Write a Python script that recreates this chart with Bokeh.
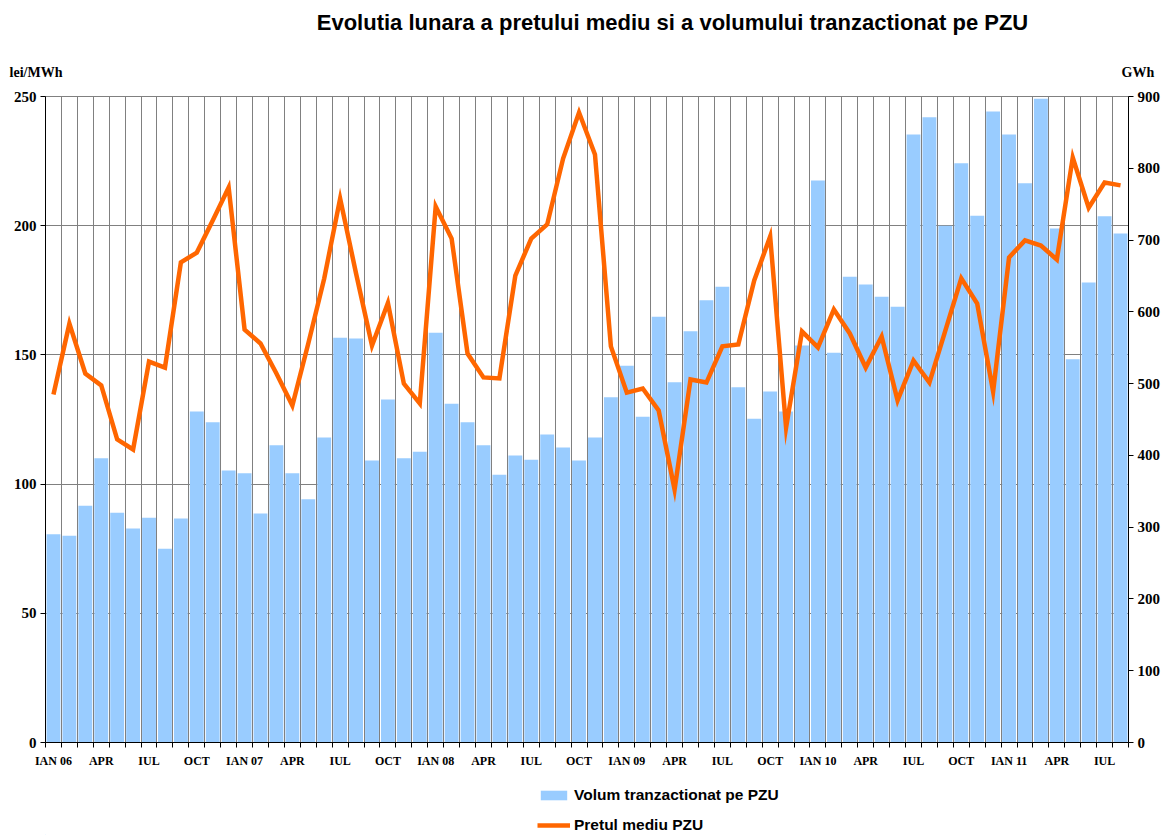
from bokeh.plotting import figure
from bokeh.layouts import column
from bokeh.models import Range1d, LinearAxis, FixedTicker, Legend, LegendItem
from bokeh.core.properties import value
from bokeh.embed import file_html
from bokeh.resources import INLINE

# ---- data ----
title_text = "Evolutia lunara a pretului mediu si a volumului tranzactionat pe PZU"
left_unit = "lei/MWh"
right_unit = "GWh"
series_names = ["Volum tranzactionat pe PZU", "Pretul mediu PZU"]

tick_labels = ["IAN 06", "APR", "IUL", "OCT", "IAN 07", "APR", "IUL", "OCT",
               "IAN 08", "APR", "IUL", "OCT", "IAN 09", "APR", "IUL", "OCT",
               "IAN 10", "APR", "IUL", "OCT", "IAN 11", "APR", "IUL"]

volume_gwh = [290, 288, 330, 396, 320, 298, 313, 270, 312, 461, 446, 379,
              375, 319, 414, 375, 339, 425, 564, 563, 393, 478, 396, 405,
              571, 472, 446, 414, 373, 400, 394, 429, 411, 393, 425, 481,
              525, 454, 593, 502, 573, 616, 635, 495, 451, 489, 461, 553,
              783, 543, 649, 638, 621, 607, 847, 871, 720, 807, 734, 879,
              847, 779, 897, 716, 534, 641, 733, 709]

price_lei = [134.7, 162.1, 142.8, 138.2, 117.3, 113.4, 147.4, 145.1, 185.8, 189.6, 202.0, 214.8,
             159.8, 154.4, 142.8, 130.4, 154.4, 179.6, 210.5, 181.5, 153.6, 170.1, 138.9, 131.2,
             207.4, 195.0, 150.5, 141.3, 140.9, 180.7, 195.0, 200.5, 226.0, 243.8, 227.6, 153.3,
             135.4, 137.0, 128.5, 97.9, 140.5, 139.3, 153.3, 154.0, 178.8, 195.8, 121.9, 159.1,
             152.9, 167.6, 158.3, 145.1, 157.1, 132.4, 147.8, 139.3, 159.4, 179.6, 169.9, 135.8,
             187.7, 194.3, 192.3, 186.9, 226.4, 207.0, 216.7, 215.6]

n = len(volume_gwh)
idx = list(range(n))
label_pos = list(range(0, n, 3))
boundaries = [i - 0.5 for i in range(n + 1)]

SERIF = "Liberation Serif"
SANS = "Liberation Sans"
GRID = "#808080"
BAR = "#99CCFF"
LINE = "#FF6600"
W = 1164
BL, BR = 45, 36                 # side borders shared by all stacked figures
FX0, FX1 = BL, W - BR           # frame span in page pixels
HEAD_H, MAIN_H, FOOT_H = 86, 688, 61

# ---- header (title + unit labels) ----
head = figure(width=W, height=HEAD_H, output_backend="svg", toolbar_location=None,
              x_range=Range1d(FX0, FX1), y_range=Range1d(0, HEAD_H),
              x_axis_type=None, min_border_left=BL, min_border_right=BR,
              min_border_top=0, min_border_bottom=0)
head.outline_line_color = None
head.grid.grid_line_color = None
head.text(x=[672], y=[HEAD_H - 22], text=[title_text],
          text_font=value(SANS), text_font_style="bold", text_font_size="22px",
          text_align="center", text_baseline="middle", text_color="black")

def unit_axis(ax, label, standoff):
    ax.ticker = FixedTicker(ticks=[HEAD_H - 72])
    ax.major_label_overrides = {HEAD_H - 72: label}
    ax.axis_line_color = None
    ax.major_tick_line_color = None
    ax.minor_tick_line_color = None
    ax.major_tick_out = 0
    ax.major_tick_in = 0
    ax.major_label_standoff = standoff
    ax.major_label_text_font = SERIF
    ax.major_label_text_font_style = "bold"
    ax.major_label_text_font_size = "14px"
    ax.major_label_text_color = "black"

unit_axis(head.yaxis[0], left_unit, -17)
hr = LinearAxis()
unit_axis(hr, right_unit, -7)
head.add_layout(hr, "right")

# ---- main chart ----
p = figure(width=W, height=MAIN_H, output_backend="svg", toolbar_location=None,
           x_range=Range1d(-0.5, n - 0.5), y_range=Range1d(0, 250),
           min_border_left=BL, min_border_right=BR, min_border_top=10, min_border_bottom=32)
p.extra_y_ranges = {"vol": Range1d(0, 900)}
p.outline_line_color = GRID

p.ygrid.ticker = FixedTicker(ticks=list(range(0, 251, 50)))
p.ygrid.grid_line_color = GRID
p.xgrid.ticker = FixedTicker(ticks=boundaries)
p.xgrid.grid_line_color = GRID

def style_y(ax):
    ax.minor_tick_line_color = None
    ax.major_tick_out = 5
    ax.major_tick_in = 0
    ax.major_label_standoff = 4
    ax.axis_line_color = "black"
    ax.major_tick_line_color = "black"
    ax.major_label_text_font = SERIF
    ax.major_label_text_font_style = "bold"
    ax.major_label_text_font_size = "15px"
    ax.major_label_text_color = "black"

ya = p.yaxis[0]
ya.ticker = FixedTicker(ticks=list(range(0, 251, 50)))
style_y(ya)

ra = LinearAxis(y_range_name="vol", ticker=FixedTicker(ticks=list(range(0, 901, 100))))
style_y(ra)
p.add_layout(ra, "right")

xa = p.xaxis[0]
xa.ticker = FixedTicker(ticks=label_pos, minor_ticks=boundaries)
xa.major_label_overrides = {pos: lab for pos, lab in zip(label_pos, tick_labels)}
xa.major_tick_line_color = None
xa.minor_tick_line_color = "black"
xa.minor_tick_out = 5
xa.minor_tick_in = 0
xa.major_label_standoff = 5
xa.axis_line_color = "black"
xa.major_label_text_font = SERIF
xa.major_label_text_font_style = "bold"
xa.major_label_text_font_size = "12px"
xa.major_label_text_color = "black"

bars = p.vbar(x=idx, top=volume_gwh, width=0.87, y_range_name="vol",
              fill_color=BAR, line_color=None)
price = p.line(idx, price_lei, line_color=LINE, line_width=4.5, line_join="miter")

# ---- footer (legend) ----
foot = figure(width=W, height=FOOT_H, output_backend="svg", toolbar_location=None,
              x_range=Range1d(FX0, FX1), y_range=Range1d(0, FOOT_H),
              x_axis_type=None, y_axis_type=None, min_border_left=BL, min_border_right=BR,
              min_border_top=0, min_border_bottom=0)
foot.outline_line_color = None
lb = foot.vbar(x=[-1000], top=[1], width=1, fill_color=BAR, line_color=None)
ll = foot.line(x=[-1000, -999], y=[1, 1], line_color=LINE, line_width=4.5)
legend = Legend(items=[LegendItem(label=series_names[0], renderers=[lb]),
                       LegendItem(label=series_names[1], renderers=[ll])],
                location=(537 - FX0, 1), orientation="vertical",
                glyph_width=33, glyph_height=12, label_height=16, label_standoff=4,
                spacing=12, padding=0, margin=0,
                border_line_color=None, background_fill_alpha=0,
                label_text_font=SANS, label_text_font_style="bold",
                label_text_font_size="15.5px", label_text_color="black")
foot.add_layout(legend)

layout = column(head, p, foot, spacing=0)
open("out.html", "w").write(file_html(layout, INLINE))
